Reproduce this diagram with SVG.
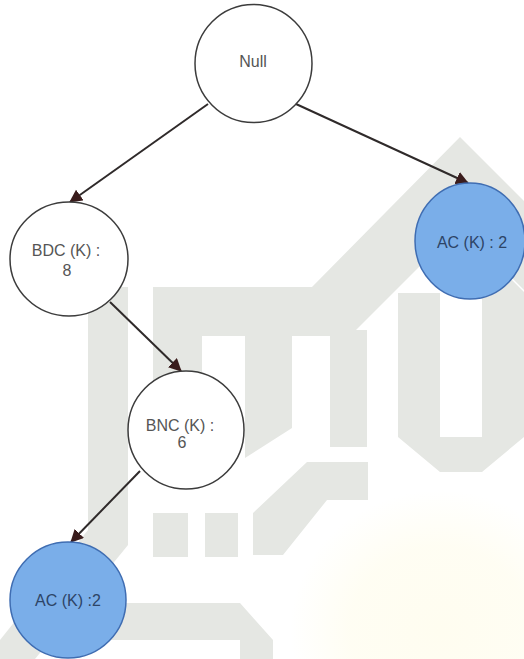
<svg xmlns="http://www.w3.org/2000/svg" width="524" height="659" viewBox="0 0 524 659">
  <defs>
    <style>
      .wm { fill: #e5e7e3; }
      .node-w { fill: #ffffff; stroke: #3c3c3c; stroke-width: 1.5; }
      .node-b { fill: #7aaee9; stroke: #3f6db2; stroke-width: 1.5; }
      .lbl { font-family: "Liberation Sans", Arial, sans-serif; font-size: 16px; text-anchor: middle; fill: #555555; }
      .lbl-b { fill: #2d4466; }
      .edge { stroke: #2f2a2a; stroke-width: 2; fill: none; marker-end: url(#arrow); }
    </style>
    <marker id="arrow" markerUnits="userSpaceOnUse" markerWidth="14" markerHeight="14" refX="12" refY="6.5" orient="auto">
      <path d="M0,0 L13,6.5 L0,13 Z" fill="#3a1c1c"/>
    </marker>
    <radialGradient id="sun" cx="0.5" cy="0.5" r="0.5">
      <stop offset="0" stop-color="#fffdf0"/>
      <stop offset="0.6" stop-color="#fffdf0" stop-opacity="0.8"/>
      <stop offset="1" stop-color="#fffdf0" stop-opacity="0"/>
    </radialGradient>
  </defs>

  <rect width="524" height="659" fill="#ffffff"/>

  <!-- faint background emblem -->
  <g id="emblem">
    <ellipse cx="440" cy="630" rx="150" ry="140" fill="url(#sun)"/>
    <polygon class="wm" points="153,287 312,287 460,137 524,201 524,290 460,226 367,319 330,356 330,336 153,336"/>
    <rect class="wm" x="153" y="287" width="49" height="183"/>
    <polygon class="wm" points="245,287 292,287 292,428 245,458"/>
    <rect class="wm" x="330" y="330" width="37" height="117"/>
    <polygon class="wm" points="398,293 440,293 440,437 482,437 482,250 524,292 524,437 482,472 440,472 398,437"/>
    <polygon class="wm" points="307,462 368,462 368,500 327,500 283,555 253,555 253,513"/>
    <rect class="wm" x="153" y="513" width="35" height="44"/>
    <rect class="wm" x="205" y="513" width="33" height="44"/>
    <polygon class="wm" points="110,603 240,603 273,640 273,659 240,659 240,640 110,640"/>
    <polygon class="wm" points="88,287 128,287 128,545 35,659 0,659 0,640 88,530"/>
  </g>

  <g id="connectors">
    <line class="edge" x1="208" y1="104" x2="70" y2="202"/>
    <line class="edge" x1="296" y1="104" x2="468" y2="183"/>
    <line class="edge" x1="110" y1="302" x2="181" y2="371"/>
    <line class="edge" x1="140" y1="471" x2="71" y2="542"/>
  </g>

  <g id="node-null">
    <ellipse class="node-w" cx="253.5" cy="63.5" rx="58.5" ry="59"/>
    <text class="lbl" x="253" y="67">Null</text>
  </g>

  <g id="node-bdc">
    <ellipse class="node-w" cx="69" cy="259" rx="59" ry="57"/>
    <text class="lbl" x="66" y="256">BDC (K) :</text>
    <text class="lbl" x="67" y="276">8</text>
  </g>

  <g id="node-ac-right">
    <ellipse class="node-b" cx="470" cy="241" rx="55" ry="58"/>
    <text class="lbl lbl-b" x="472" y="248">AC (K) : 2</text>
  </g>

  <g id="node-bnc">
    <ellipse class="node-w" cx="186" cy="430" rx="58" ry="59"/>
    <text class="lbl" x="180" y="431">BNC (K) :</text>
    <text class="lbl" x="182" y="448">6</text>
  </g>

  <g id="node-ac-bottom">
    <ellipse class="node-b" cx="68" cy="600" rx="58" ry="58"/>
    <text class="lbl lbl-b" x="68" y="606">AC (K) :2</text>
  </g>
</svg>
